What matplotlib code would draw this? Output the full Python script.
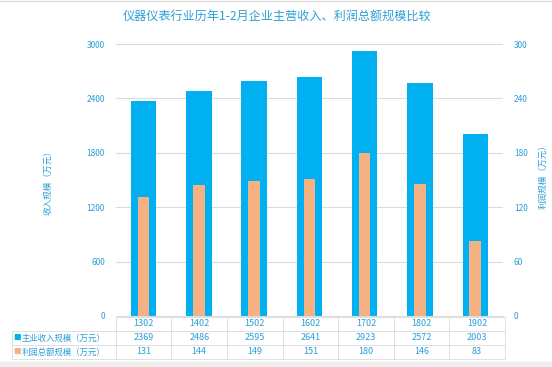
import numpy as np
import matplotlib.pyplot as plt
from matplotlib.patches import Rectangle

plt.rcParams['font.family'] = ['Noto Sans CJK SC', 'DejaVu Sans']

periods = ['1302', '1402', '1502', '1602', '1702', '1802', '1902']
revenue = [2369, 2486, 2595, 2641, 2923, 2572, 2003]
profit = [131, 144, 149, 151, 180, 146, 83]
rev_label = '主业收入规模（万元）'
pro_label = '利润总额规模（万元）'

blue = '#00b0f0'
orange = '#f4b183'
txt = '#2a9fd6'
grid = '#dcdcdc'

fig = plt.figure(figsize=(5.52, 3.67), dpi=100)
ax = fig.add_axes([0.210, 0.139, 0.701, 0.741])
ax2 = ax.twinx()

x = np.arange(len(periods))
ax.bar(x, revenue, width=0.46, color=blue, zorder=2)
ax2.bar(x, profit, width=0.21, color=orange, zorder=3)

ax.set_xlim(-0.5, len(periods) - 0.5)
ax.set_ylim(0, 3000)
ax2.set_ylim(0, 300)
ax.set_yticks(np.arange(0, 3001, 600))
ax2.set_yticks(np.arange(0, 301, 60))
ax.yaxis.grid(True, color=grid, linewidth=0.8, zorder=0)
ax.set_axisbelow(True)
ax.set_xticks([])

for a in (ax, ax2):
    for s in a.spines.values():
        s.set_visible(False)
    a.tick_params(axis='y', length=0, labelsize=6, labelcolor=txt, pad=8)
ax.spines['bottom'].set_visible(True)
ax.spines['bottom'].set_color(grid)

ax.set_ylabel('收入规模（万元）', color=txt, fontsize=6.2, va='center')
ax.yaxis.set_label_coords(-0.176, 0.5)
ax2.set_ylabel('利润规模（万元）', color=txt, fontsize=6.2, va='center', rotation=90)
ax2.yaxis.set_label_coords(1.105, 0.52)

fig.text(0.502, 0.955, '仪器仪表行业历年1-2月企业主营收入、利润总额规模比较',
         ha='center', va='center', color=txt, fontsize=8.7)

# data table under the chart
cells = [[''] + periods,
         [rev_label] + [str(v) for v in revenue],
         [pro_label] + [str(v) for v in profit]]
left = (12 - 116) / 387
tb = ax.table(cellText=cells, colWidths=[104] + [55.6] * 7, cellLoc='center',
              bbox=[left, -0.158, 1 - left + 0.005, 0.155])
tb.auto_set_font_size(False)
for (r, c), cell in tb.get_celld().items():
    cell.set_edgecolor(grid)
    cell.set_linewidth(0.6)
    cell.get_text().set_color(txt)
    cell.get_text().set_fontsize(6.5)
    if c == 0:
        cell.get_text().set_fontsize(6)
    if r == 0 and c == 0:
        cell.visible_edges = ''

ax.text(left + 0.004, -0.158 + 0.155 * 0.5, '■', transform=ax.transAxes,
        ha='left', va='center', color=blue, fontsize=5.5, clip_on=False)
ax.text(left + 0.004, -0.158 + 0.155 / 6, '■', transform=ax.transAxes,
        ha='left', va='center', color=orange, fontsize=5.5, clip_on=False)

fig.patches.append(Rectangle((0, 0), 1, 5 / 367, transform=fig.transFigure,
                             color='#eeeeee', zorder=0))
fig.lines.append(plt.Line2D([0, 1], [0.998, 0.998], transform=fig.transFigure,
                            color='#dddddd', linewidth=1))

fig.savefig('out.png', dpi=100)
